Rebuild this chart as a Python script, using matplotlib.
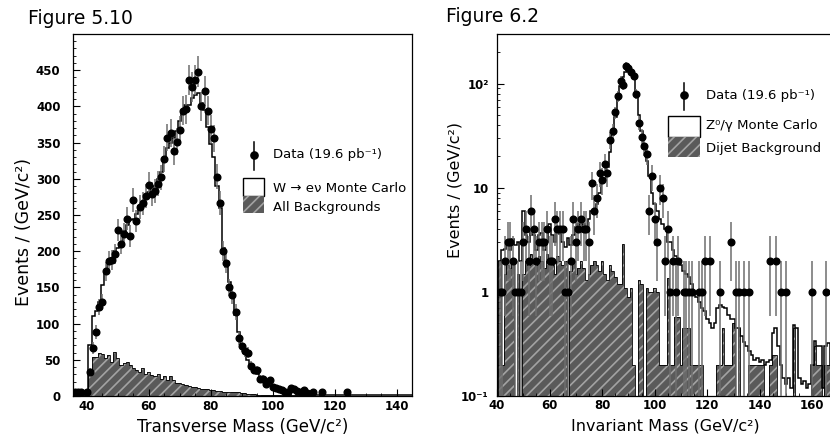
import numpy as np
import matplotlib
matplotlib.use("Agg")
import matplotlib.pyplot as plt
from matplotlib.patches import Rectangle
from matplotlib.lines import Line2D
from matplotlib.ticker import MultipleLocator, FixedLocator, FixedFormatter, LogLocator, NullFormatter

plt.rcParams['font.family'] = ['DejaVu Sans']
plt.rcParams['mathtext.default'] = 'regular'
plt.rcParams['hatch.linewidth'] = 1.2

# ----------------------------
# Figure 5.10 : transverse mass, 1 GeV bins centred on 36 ... 145
# ----------------------------
mt_centers = np.arange(36, 146)

mt_data = [
    5, 6, 5, 0, 5, 33, 66, 88, 123, 130,
    172, 186, 188, 196, 229, 210, 224, 245, 221, 271,
    242, 261, 266, 276, 292, 279, 283, 293, 302, 327,
    357, 363, 338, 351, 368, 394, 396, 436, 427, 436,
    448, 400, 421, 394, 369, 356, 303, 267, 200, 184,
    150, 139, 116, 80, 69, 62, 60, 42, 36, 36,
    24, 24, 17, 22, 13, 11, 9, 8, 6, 5,
    11, 10, 7, 5, 8, 4, 3, 6, 0, 0,
    5, 0, 0, 0, 0, 0, 0, 0, 5, 0,
    0, 0, 0, 0, 0, 0, 0, 0, 0, 0,
    0, 0, 0, 0, 0, 0, 0, 0, 0, 0,
]

mt_mc = [
    3, 3, 3, 3, 4, 70, 111, 118, 130, 153,
    170, 182, 190, 200, 205, 212, 228, 236, 243, 245,
    252, 262, 268, 274, 282, 286, 290, 300, 310, 330,
    342, 350, 356, 366, 380, 392, 402, 402, 412, 416,
    418, 405, 395, 371, 348, 330, 290, 260, 205, 178,
    158, 138, 112, 88, 72, 60, 50, 42, 35, 30,
    25, 21, 18, 15, 12, 10, 9, 8, 7, 6,
    5, 5, 4, 4, 3, 3, 3, 2, 2, 2,
    2, 2, 2, 2, 1, 1, 1, 1, 1, 1,
    1, 1, 1, 1, 1, 1, 1, 1, 1, 1,
    1, 1, 1, 1, 1, 1, 1, 1, 1, 1,
]

mt_bkg = [
    2, 2, 2, 2, 3, 32, 54, 54, 59, 58,
    52, 56, 47, 61, 52, 43, 45, 47, 43, 38,
    36, 33, 38, 31, 33, 29, 27, 31, 24, 27,
    22, 27, 22, 18, 18, 16, 15, 14, 13, 13,
    11, 9, 10, 9, 8, 8, 7, 7, 6, 6,
    6, 5, 5, 5, 4, 4, 3, 3, 3, 2,
    2, 2, 2, 1, 1, 1, 1, 1, 1, 1,
    1, 1, 1, 1, 1, 0, 0, 0, 0, 0,
    0, 0, 0, 0, 0, 0, 0, 0, 0, 0,
    0, 0, 0, 0, 0, 0, 0, 0, 0, 0,
    0, 0, 0, 0, 0, 0, 0, 0, 0, 0,
]

# ----------------------------
# Figure 6.2 : invariant mass, 1 GeV bins centred on 41 ... 170
# ----------------------------
mee_centers = np.arange(41, 171)

mee_data = [
    1, 1, 2, 3, 3, 2, 1, 1, 1, 3,
    4, 2, 6, 4, 2, 3, 3, 3, 4, 2,
    2, 5, 4, 4, 4, 1, 1, 2, 5, 3,
    4, 5, 4, 4, 3, 11, 6, 8, 14, 12,
    17, 14, 29, 35, 53, 76, 107, 97, 148, 141,
    130, 119, 80, 42, 31, 25, 21, 6, 13, 5,
    3, 10, 8, 2, 4, 1, 2, 1, 2, 0,
    1, 1, 1, 1, 0, 0, 1, 1, 2, 0,
    2, 0, 0, 0, 1, 0, 0, 0, 3, 0,
    1, 1, 0, 1, 0, 1, 0, 0, 0, 0,
    0, 0, 0, 2, 0, 2, 0, 1, 0, 1,
    0, 0, 0, 0, 0, 0, 0, 0, 0, 1,
    0, 0, 0, 0, 1, 0, 0, 0, 0, 0,
]

mee_mc = [
    2, 2.5, 2.6, 3, 2.5, 3.2, 2.8, 3, 2, 6,
    3.5, 3, 4, 3.5, 2.5, 3.5, 3.7, 2.5, 3, 4.5,
    3.5, 3, 4.2, 3.6, 3, 2.7, 3.3, 2.8, 3.5, 4.2,
    4.5, 3.8, 4.5, 4, 5, 6, 6, 7, 9, 11,
    12, 16, 22, 32, 48, 70, 95, 115, 130, 137,
    130, 115, 82, 50, 35, 25, 18, 13, 9, 7,
    6, 5, 4.5, 4, 3, 3, 2.5, 2.2, 2, 1.8,
    1.6, 1.5, 1.4, 1.2, 1.0, 0.9, 0.8, 0.7, 0.65, 0.55,
    0.5, 0.45, 0.5, 0.7, 0.75, 0.72, 0.7, 0.6, 0.55, 0.55,
    0.45, 0.45, 0.38, 0.33, 0.3, 0.27, 0.25, 0.22, 0.23, 0.21,
    0.22, 0.2, 0.21, 0.22, 0.4, 0.45, 0.3, 0.2, 0.15, 0.13,
    0.15, 0.12, 0.48, 0.45, 0.15, 0.13, 0.14, 0.12, 0.13, 0.2,
    0.34, 0.3, 0.3, 0.12, 0.3, 0.32, 0.2, 0.2, 0.2, 0.2,
]

mee_bkg = [
    2, 0.2, 1.5, 1.8, 1.7, 2, 0, 1.5, 0, 1.5,
    2, 1.8, 2.3, 2, 1.8, 2.2, 2, 1.7, 2.3, 2,
    1.8, 1.5, 2.2, 2, 1.8, 2, 0, 1.6, 2, 1.5,
    1.7, 2, 1.7, 1.3, 1.5, 1.8, 2, 1.8, 1.6, 2,
    1.5, 1.3, 1.8, 1.6, 1.4, 1.2, 1.2, 2.9, 1.1, 0.9,
    1.1, 0.2, 0, 1.3, 1.2, 0, 1.1, 1, 1, 1.1,
    1, 0.2, 0.2, 0.2, 1.35, 0.2, 0.2, 0.57, 0.57, 0.2,
    0.45, 0.45, 0.45, 0.2, 0.2, 0.2, 0.2, 0.2, 0, 0,
    0, 0, 0, 0.2, 0.2, 0.45, 0.2, 0.2, 0.2, 0.5,
    0, 0.45, 0, 0, 0, 0.2, 0.2, 0.2, 0.2, 0.2,
    0.2, 0, 0, 0.2, 0.25, 0.25, 0, 0, 0, 0,
    0, 0, 0.45, 0, 0, 0, 0, 0, 0, 0.2,
    0.3, 0.2, 0.2, 0, 0.2, 0.2, 0, 0, 0, 0,
]

HATCH_FACE = '#5a5a5a'
HATCH_LINE = '#a3a3a3'
HATCH = '///'
ERR_COLOR = '#6e6e6e'
TICK_FONT = {'family': 'DejaVu Sans', 'weight': 'bold', 'size': 8.5}


def draw_panel(ax, centers, data, mc, bkg, floor):

    edges = np.append(centers - 0.5, centers[-1] + 0.5)
    mc = np.clip(np.asarray(mc, float), floor, None)
    bkg = np.clip(np.asarray(bkg, float), floor, None)

    # hatched background
    ax.stairs(bkg, edges, baseline=floor, fill=True,
              facecolor=HATCH_FACE, edgecolor=HATCH_LINE,
              hatch=HATCH, linewidth=0, zorder=1)
    ax.stairs(bkg, edges, baseline=floor, color='black',
              linewidth=0.6, zorder=2)

    # monte carlo total
    ax.stairs(mc, edges, baseline=None, color='black',
              linewidth=1.1, zorder=3)

    # data points
    data = np.asarray(data, float)
    keep = data > 0
    x = centers[keep]
    y = data[keep]
    err = np.sqrt(y)
    low = np.minimum(err, y - floor * 0.5)
    ax.errorbar(x, y, yerr=[low, err], fmt='o', color='black',
                ms=4.8, ecolor=ERR_COLOR, elinewidth=1.1,
                capsize=0, zorder=4)


def style_ticks(ax):

    ax.tick_params(which='both', direction='in', top=False, right=False)
    ax.tick_params(which='major', length=5, width=0.8)
    ax.tick_params(which='minor', length=2.5, width=0.6)
    for spine in ax.spines.values():
        spine.set_linewidth(0.9)


def draw_legend(ax, mark_x, mark_y, err_lo, err_hi, text_x,
                box_x, box_w, box1_y, box2_y, box_h1, box_h2,
                text_y, labels, size):

    ax.add_line(Line2D([mark_x, mark_x], [err_lo, err_hi],
                       transform=ax.transAxes, color='black', lw=1.1))
    ax.add_line(Line2D([mark_x], [mark_y], transform=ax.transAxes,
                       marker='o', ms=5.2, color='black'))
    ax.text(text_x, mark_y, labels[0], transform=ax.transAxes,
            va='center', ha='left', fontsize=size)
    ax.add_patch(Rectangle((box_x, box1_y), box_w, box_h1,
                           transform=ax.transAxes, facecolor='white',
                           edgecolor='black', lw=1.0, zorder=5))
    ax.add_patch(Rectangle((box_x, box2_y), box_w, box_h2,
                           transform=ax.transAxes, facecolor=HATCH_FACE,
                           edgecolor=HATCH_LINE, hatch=HATCH, lw=0, zorder=5))
    ax.text(text_x, text_y[0], labels[1], transform=ax.transAxes,
            va='center', ha='left', fontsize=size)
    ax.text(text_x, text_y[1], labels[2], transform=ax.transAxes,
            va='center', ha='left', fontsize=size)


fig = plt.figure(figsize=(8.30, 4.43), dpi=100)

# ======================================================
# Left : Figure 5.10
# ======================================================

ax1 = fig.add_axes([73 / 830, 47 / 443, 339 / 830, 362 / 443])
draw_panel(ax1, mt_centers, mt_data, mt_mc, mt_bkg, 0.0)
ax1.set_xlim(35.5, 145)
ax1.set_ylim(0, 500)
ax1.xaxis.set_major_locator(MultipleLocator(20))
ax1.xaxis.set_minor_locator(MultipleLocator(5))
ax1.yaxis.set_major_locator(FixedLocator([0, 50, 100, 150, 200, 250, 300, 350, 400, 450]))
ax1.yaxis.set_minor_locator(MultipleLocator(10))
style_ticks(ax1)
ax1.tick_params(axis='y', which='major', pad=9)
ax1.tick_params(axis='x', which='major', pad=3)

ax1.set_xlabel('Transverse Mass (GeV/c²)', fontsize=12)
ax1.set_ylabel('Events / (GeV/c²)', fontsize=12.5)
ax1.xaxis.set_label_coords(0.502, -0.062)
ax1.yaxis.set_label_coords(-0.118, 0.453)

draw_legend(ax1, 0.534, 0.666, 0.624, 0.702, 0.590,
            0.501, 0.062, 0.552, 0.506, 0.050, 0.046,
            (0.572, 0.522),
            ['Data (19.6 pb⁻¹)', 'W → eν Monte Carlo', 'All Backgrounds'],
            9.5)

# ======================================================
# Right : Figure 6.2
# ======================================================

ax2 = fig.add_axes([497 / 830, 47 / 443, 341.7 / 830, 362 / 443])
ax2.set_yscale('log')
draw_panel(ax2, mee_centers, mee_data, mee_mc, mee_bkg, 1e-3)
ax2.set_xlim(40, 170)
ax2.set_ylim(0.1, 300)
ax2.xaxis.set_major_locator(MultipleLocator(20))
ax2.xaxis.set_minor_locator(MultipleLocator(5))
ax2.yaxis.set_major_locator(FixedLocator([0.1, 1, 10, 100]))
ax2.yaxis.set_major_formatter(FixedFormatter(['10⁻¹', '1', '10', '10²']))
ax2.yaxis.set_minor_locator(LogLocator(base=10, subs=np.arange(2, 10)))
ax2.yaxis.set_minor_formatter(NullFormatter())
style_ticks(ax2)
ax2.tick_params(axis='y', which='major', pad=6)
ax2.tick_params(axis='x', which='major', pad=2)

ax2.set_xlabel('Invariant Mass (GeV/c²)', fontsize=11.5)
ax2.set_ylabel('Events / (GeV/c²)', fontsize=11.5)
ax2.xaxis.set_label_coords(0.494, -0.062)
ax2.yaxis.set_label_coords(-0.10, 0.569)

draw_legend(ax2, 0.548, 0.831, 0.790, 0.865, 0.612,
            0.501, 0.093, 0.716, 0.661, 0.057, 0.055,
            (0.746, 0.685),
            ['Data (19.6 pb⁻¹)', 'Z⁰/γ Monte Carlo', 'Dijet Background'],
            9.5)

for ax in (ax1, ax2):
    for lab in ax.get_xticklabels() + ax.get_yticklabels():
        lab.set_fontproperties(TICK_FONT)

fig.text(28 / 830, 1 - 19 / 443, 'Figure 5.10', fontsize=13.5,
         va='center', ha='left')
fig.text(446 / 830, 1 - 16 / 443, 'Figure 6.2', fontsize=13.5,
         va='center', ha='left')

fig.savefig('out.png', dpi=100)
